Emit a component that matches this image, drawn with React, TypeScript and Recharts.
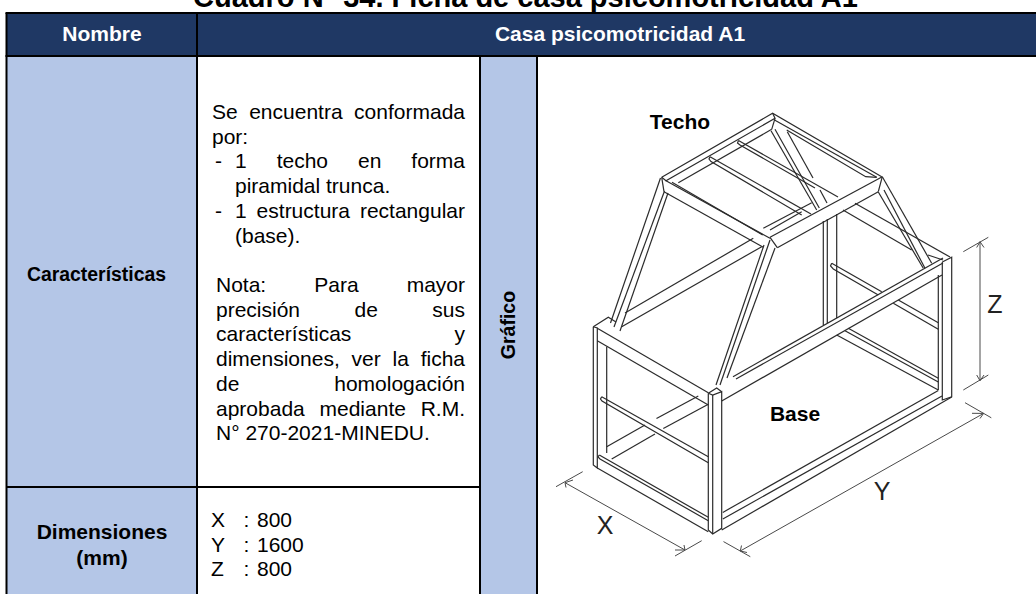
import React from "react";
import { ComposedChart, Line, XAxis, YAxis, ReferenceArea, ReferenceLine } from "recharts";

type P = [number, number];
const W = 1036, H = 594;

// table structure (in picture units)
const colEdges = [6.5, 197, 480, 537, 1036];
const rowEdges = [13, 56, 487, 594];
const NAVY = "#1F3864", PALE = "#B4C6E7";

// drawing: main frame strokes, each a polyline
const roofFrame: P[][] = [
  [[661.7,177.3],[772.6,113.3],[881.7,176.7]],
  [[772.6,113.3],[775,118.3],[666,180.7],[661.7,177.3]],
  [[771.7,129.3],[678.3,182.7]],
  [[666,180.7],[770,238.3]],
  [[672,182.3],[762.7,235]],
  [[664,191.7],[763.3,247.3]],
  [[661.7,177.3],[664,191.7]],
  [[770,237.3],[882.3,176.7]],
  [[777.3,247.7],[878.3,191.7]],
  [[882.3,176.7],[878.3,191.7]],
  [[770,237.3],[777.3,247.7]],
  [[774.5,120],[876.7,177.3]],
  [[786.7,130],[865.7,176.7],[876.7,177.3]],
  [[775,118.3],[771.7,129.3]],
];
const rafters: P[][] = [
  [[660.5,178],[610.5,323]],
  [[664.5,191],[614,327]],
  [[668,193],[620,331]],
  [[764,245],[716,385]],
  [[770,240],[720,385]],
  [[775,248],[727,378]],
  [[771,130.7],[816.7,210]],
  [[775,129.3],[819.3,208]],
  [[787.3,131.7],[813,178]],
  [[820,190],[827,203]],
  [[882.3,176.7],[931.7,263.3]],
  [[878.3,192],[923.3,268.3]],
  [[884,190],[925,268.3]],
];
const rods: P[][] = [
  [[738.5,140.5],[838,197]],
  [[738.5,140.5],[737.5,143],[740,145],[815,188]],
  [[710,156.7],[811,214]],
  [[710,156.7],[709,159],[711,161.5],[801.7,215]],
  [[601.7,396.7],[708.3,456.7]],
  [[601.7,396.7],[600.5,399],[602,401],[708.3,462.7]],
  [[831.7,263.3],[881.7,291.7]],
  [[831.7,263.3],[830.5,266],[833.3,269],[878.3,295]],
  [[898.3,300],[938.3,322.7]],
  [[893.3,303.3],[938.3,329.3]],
];
const baseBars: P[][] = [
  [[753.3,238.3],[625,313]],
  [[761.7,246.7],[621.7,326.7]],
  [[763.3,228.3],[811.7,202.7]],
  [[770,230],[801.7,211.7]],
  [[855,203.3],[950,257]],
  [[843,210],[911.7,250]],
  [[928,255],[943,260]],
  [[597.3,328.3],[708.3,392.7]],
  [[597.3,340.7],[708.3,405]],
  [[599.3,455],[708.3,517.3]],
  [[599.3,455],[598,457],[600,459],[708.3,520.7]],
  [[597.3,468],[708.3,531.7]],
  [[606.7,446.7],[645,425]],
  [[656.5,418.5],[698.3,396]],
  [[611.7,459],[655,434]],
  [[663.3,428.5],[708.3,404.3]],
  [[733,376.7],[943,258]],
  [[736,379],[943,263]],
  [[721.7,401],[942,275]],
  [[722.8,512.4],[938.3,390.6]],
  [[722.8,519],[942,396]],
  [[721.7,530],[951.7,397]],
  [[848.3,328.3],[938.3,378.3]],
  [[845,330.7],[938.3,382]],
  [[836.7,335],[938.3,390]],
];
const posts: P[][] = [
  [[593.3,326.7],[593.3,465],[597.3,468],[597.3,328],[593.3,326.7]],
  [[593.3,326.7],[608.3,317.3],[616,322]],
  [[606.7,346.7],[606.7,453]],
  [[708.3,393.3],[708.3,530],[712.7,534],[721.7,528.3],[721.7,391.7],[712.7,395],[708.3,393.3]],
  [[712.7,395],[712.7,534]],
  [[708.3,393.3],[716.7,388],[721.7,391.7]],
  [[823.3,221],[823.3,325]],
  [[827.3,219],[827.3,323]],
  [[836.7,214],[836.7,318]],
  [[942.3,262],[942.3,400],[951.7,396.7],[951.7,257.3],[942.3,262]],
  [[938.3,275],[938.3,390]],
];
const dimensions: P[][] = [
  [[980,241.7],[980,380.7]],
  [[963.3,251.7],[988.3,237.3]],
  [[963.3,390],[988.3,375]],
  [[976.7,247.5],[980,241.7],[984,247.5]],
  [[976.7,375],[980,380.7],[984,375]],
  [[740.3,551],[983.6,413.4]],
  [[723.5,541.6],[750.3,556.7]],
  [[965,402.7],[991.3,417.8]],
  [[741.5,545.5],[740.3,551],[747,552.5]],
  [[972,413.3],[983.6,413.4],[980,418.5]],
  [[565,482.7],[685,550]],
  [[556,486.7],[582.7,471.7]],
  [[675,556],[701.7,540.7]],
  [[573,480],[565,482.7],[566,487.5]],
  [[675,550],[685,550],[684,545]],
];

// texts
const TITLE = "Cuadro N° 34. Ficha de casa psicomotricidad A1";
const HEAD_LEFT = "Nombre";
const HEAD_RIGHT = "Casa psicomotricidad A1";
const ROW_A = "Características";
const ROW_B = ["Dimensiones", "(mm)"];
const ROW_G = "Gráfico";
const blockOne: [string, number, boolean][] = [
  ["Se encuentra conformada", 212, true],
  ["por:", 212, false],
  ["1 techo en forma", 235, true],
  ["piramidal trunca.", 235, false],
  ["1 estructura rectangular", 235, true],
  ["(base).", 235, false],
];
const blockTwo: [string, boolean][] = [
  ["Nota: Para mayor", true],
  ["precisión de sus", true],
  ["características y", true],
  ["dimensiones, ver la ficha", true],
  ["de homologación", true],
  ["aprobada mediante R.M.", true],
  ["N° 270-2021-MINEDU.", false],
];
const dimLabels = ["X", "Y", "Z"];
const dimValues = ["800", "1600", "800"];

const FONT = '"Liberation Sans", Arial, sans-serif';
const LH = 24.7;

function T(p: { x: number; y: number; s?: string; size?: number; bold?: boolean; color?: string; w?: number; center?: boolean; just?: boolean; rot?: boolean }) {
  const size = p.size ?? 21;
  const st: React.CSSProperties = {
    position: "absolute",
    top: p.y - 20,
    height: 40,
    lineHeight: "40px",
    fontFamily: FONT,
    fontSize: size,
    fontWeight: p.bold ? 700 : 400,
    color: p.color ?? "#000",
    whiteSpace: p.just ? "normal" : "nowrap",
  };
  if (p.center) {
    st.left = p.x - 400; st.width = 800; st.textAlign = "center";
  } else {
    st.left = p.x;
    if (p.just) { st.width = p.w; st.textAlign = "justify"; st.textAlignLast = "justify"; }
  }
  if (p.rot) st.transform = "rotate(-90deg)";
  return <div style={st}>{p.s}</div>;
}

const strokeGroups: [P[][], string, number][] = [
  [baseBars, "#2b2b2b", 1.2],
  [roofFrame, "#2b2b2b", 1.2],
  [rafters, "#2b2b2b", 1.2],
  [rods, "#2b2b2b", 1.2],
  [posts, "#2b2b2b", 1.2],
  [dimensions, "#4a4a4a", 1],
];

export default function App() {
  const [c0, c1, c2, c3, c4] = colEdges;
  const [r0, r1, r2, r3] = rowEdges;
  return (
    <div style={{ position: "absolute", left: 0, top: 0, width: W, height: H, overflow: "hidden", background: "#fff" }}>
      <ComposedChart width={W} height={H} margin={{ top: 0, right: 0, bottom: 0, left: 0 }} style={{ position: "absolute", left: 0, top: 0 }}>
        <XAxis type="number" dataKey="x" domain={[0, W]} hide allowDataOverflow />
        <YAxis type="number" domain={[0, H]} reversed hide allowDataOverflow />
        <ReferenceArea x1={c0} x2={c4} y1={r0} y2={r1} fill={NAVY} fillOpacity={1} stroke="none" />
        <ReferenceArea x1={c0} x2={c1} y1={r1} y2={r3} fill={PALE} fillOpacity={1} stroke="none" />
        <ReferenceArea x1={c2} x2={c3} y1={r1} y2={r3} fill={PALE} fillOpacity={1} stroke="none" />
        <ReferenceLine segment={[{ x: c0 - 1, y: r0 }, { x: c4, y: r0 }]} stroke="#000" strokeWidth={2} />
        <ReferenceLine segment={[{ x: c0 - 1, y: r1 }, { x: c4, y: r1 }]} stroke="#000" strokeWidth={2} />
        <ReferenceLine segment={[{ x: c0, y: r2 }, { x: c2, y: r2 }]} stroke="#000" strokeWidth={2} />
        <ReferenceLine segment={[{ x: c0, y: r0 }, { x: c0, y: r3 }]} stroke="#000" strokeWidth={2} />
        <ReferenceLine segment={[{ x: c1, y: r0 }, { x: c1, y: r3 }]} stroke="#000" strokeWidth={2} />
        <ReferenceLine segment={[{ x: c2, y: r1 }, { x: c2, y: r3 }]} stroke="#000" strokeWidth={2} />
        <ReferenceLine segment={[{ x: c3, y: r1 }, { x: c3, y: r3 }]} stroke="#000" strokeWidth={2} />
        {strokeGroups.flatMap(([group, color, sw], g) =>
          group.map((pts, i) => (
            <Line
              key={`${g}-${i}`}
              data={pts.map(([x, y]) => ({ x, y }))}
              dataKey="y"
              stroke={color}
              strokeWidth={sw}
              dot={false}
              activeDot={false}
              legendType="none"
              isAnimationActive={false}
            />
          ))
        )}
      </ComposedChart>

      <T x={525.5} y={-3} s={TITLE} size={29} bold center />
      <T x={102} y={34} s={HEAD_LEFT} bold color="#fff" center />
      <T x={620} y={34} s={HEAD_RIGHT} bold color="#fff" center />
      <T x={96.5} y={274} s={ROW_A} size={19.4} bold center />
      <T x={102} y={531.7} s={ROW_B[0]} bold center />
      <T x={102} y={558} s={ROW_B[1]} bold center />
      <T x={508} y={325} s={ROW_G} size={19.5} bold center rot />
      <T x={680} y={121.7} s="Techo" bold center />
      <T x={795} y={414} s="Base" bold center />
      <T x={605} y={525} s="X" size={25} center color="#222" />
      <T x={882} y={491} s="Y" size={25} center color="#222" />
      <T x={995} y={304} s="Z" size={25} center color="#222" />

      {blockOne.map(([s, x, just], i) => (
        <T key={s} x={x} y={112 + i * LH} s={s} just={just} w={465 - x} />
      ))}
      <T x={215} y={112 + 2 * LH} s="-" />
      <T x={215} y={112 + 4 * LH} s="-" />
      {blockTwo.map(([s, just], i) => (
        <T key={s} x={216} y={285 + i * LH} s={s} just={just} w={249} />
      ))}
      {dimLabels.map((s, i) => (
        <React.Fragment key={s}>
          <T x={211} y={520 + i * LH} s={s} />
          <T x={243.5} y={520 + i * LH} s={":"} />
          <T x={257} y={520 + i * LH} s={dimValues[i]} />
        </React.Fragment>
      ))}
    </div>
  );
}
